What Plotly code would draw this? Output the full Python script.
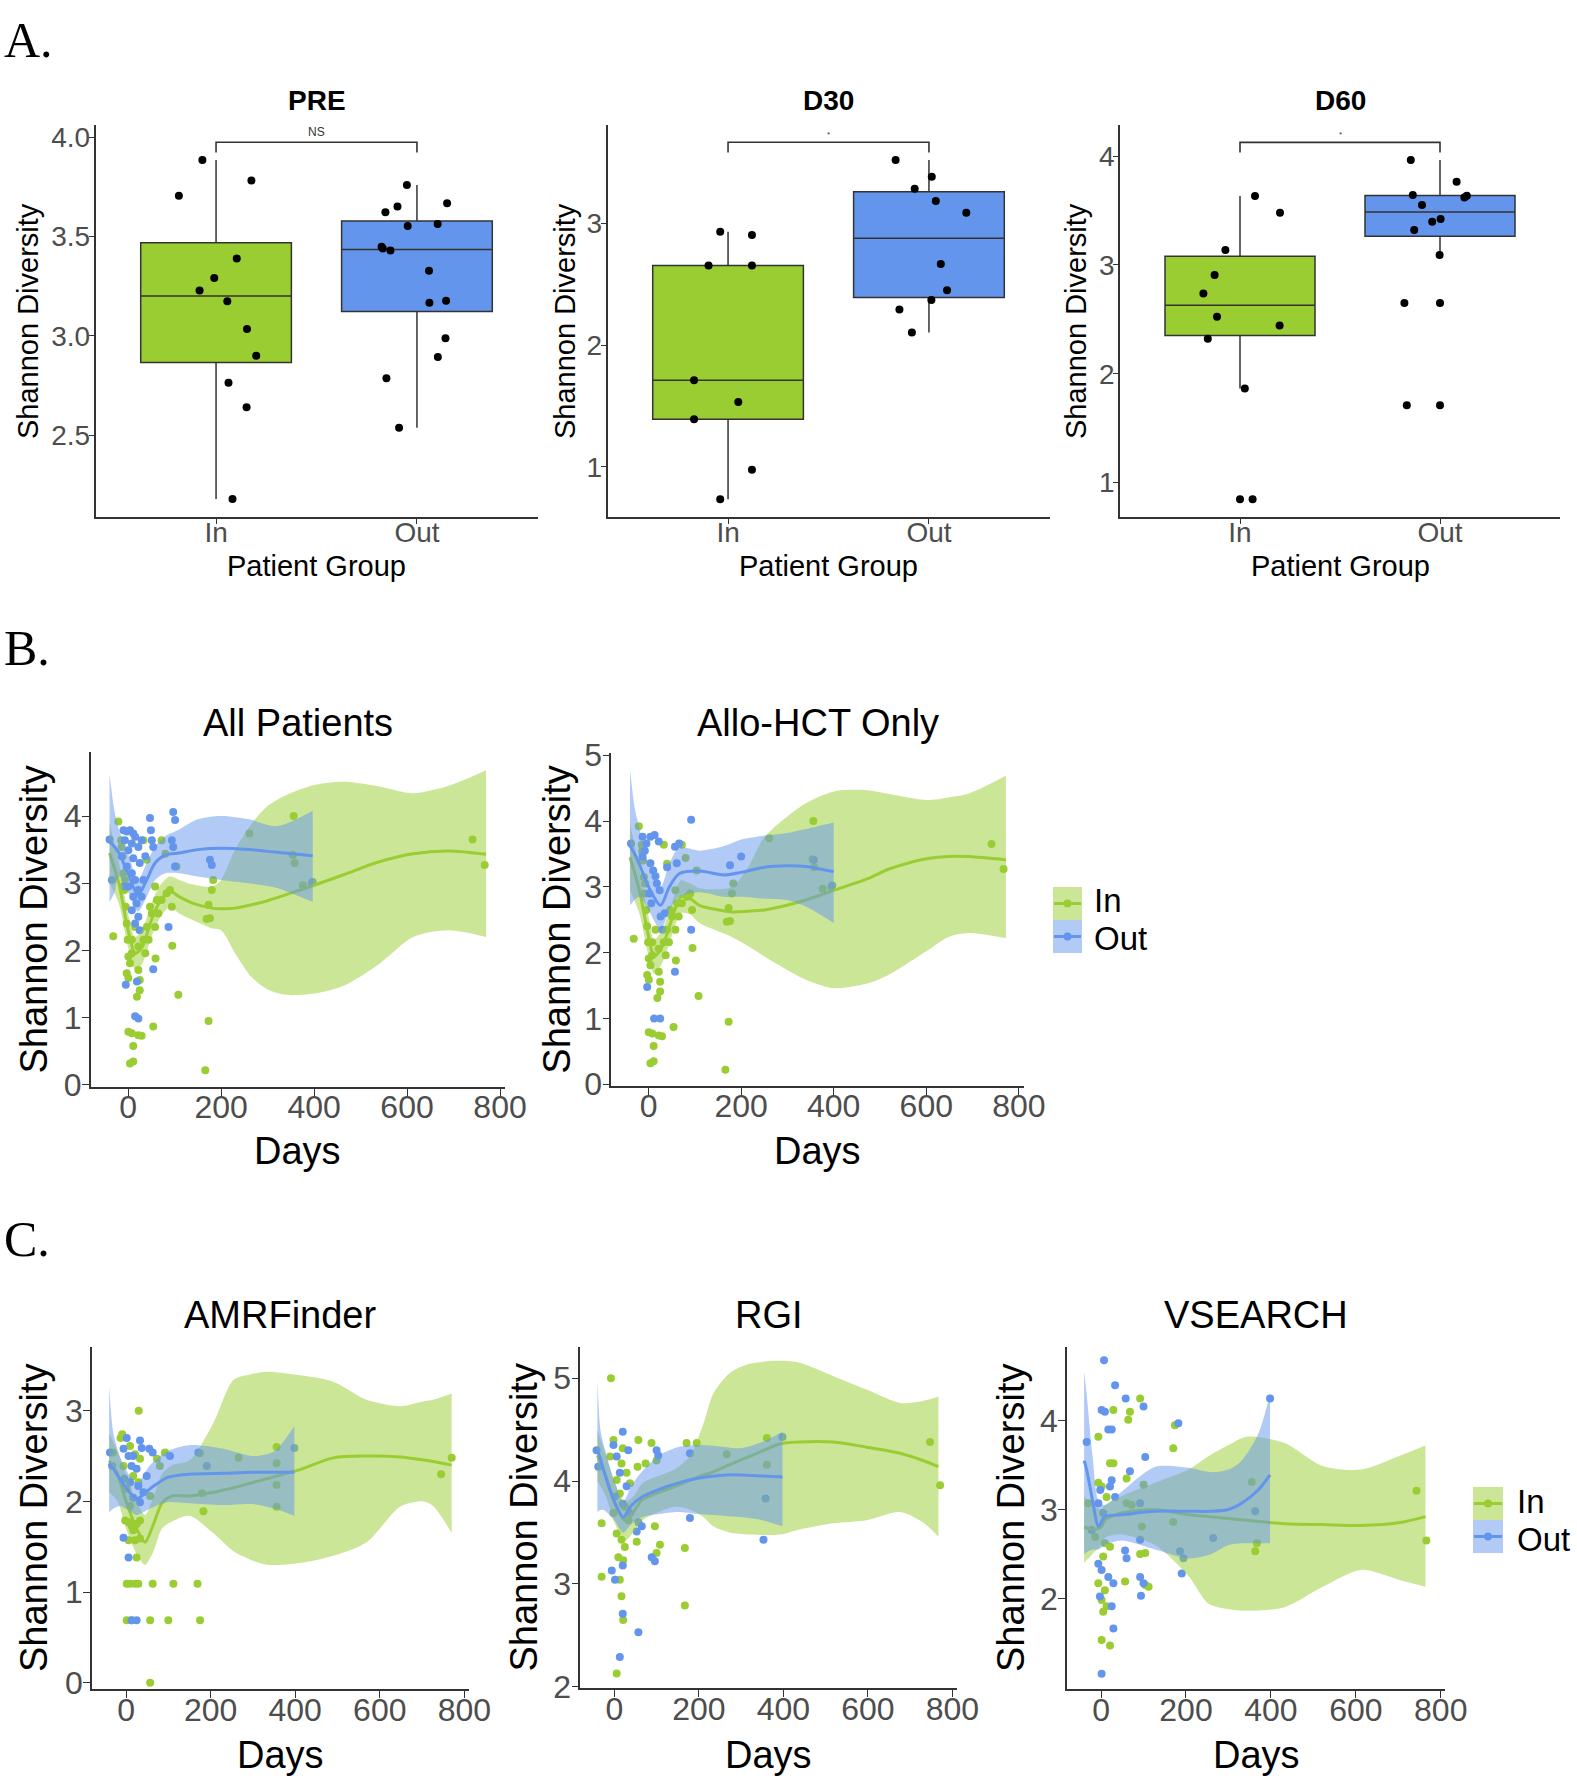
import numpy as np
import plotly.graph_objects as go

W, H = 1577, 1781
GREEN, BLUE = '#9ACD32', '#6495ED'
GREEN_RIB, BLUE_RIB = 'rgba(154,205,50,0.5)', 'rgba(100,149,237,0.5)'
AX = '#333333'
TICKC = '#4D4D4D'
SANS = 'Liberation Sans, Arial, sans-serif'
SERIF = 'Liberation Serif, Times New Roman, serif'

group_labels = ['In', 'Out']
time_ticks = [0, 200, 400, 600, 800]

# ---------------- Panel A : box plots ----------------
pre_in = [3.886, 3.706, 3.782, 3.390, 3.291, 3.228, 3.174, 3.034, 2.900, 2.764, 2.640, 2.178]
pre_in_jit = [-0.068, -0.185, 0.176, 0.103, -0.009, -0.082, 0.056, 0.154, 0.200, 0.062, 0.152, 0.082]
pre_out = [3.760, 3.622, 3.651, 3.668, 3.553, 3.563, 3.449, 3.430, 3.440, 3.328, 3.167, 3.177,
           2.987, 2.893, 2.786, 2.537]
pre_out_jit = [-0.050, -0.157, -0.097, 0.150, -0.046, 0.103, -0.176, -0.132, -0.170, 0.060, 0.062,
               0.145, 0.142, 0.104, -0.152, -0.089]

d30_in = [2.932, 2.904, 2.655, 2.655, 1.712, 1.534, 1.392, 0.978, 0.734]
d30_in_jit = [-0.039, 0.119, -0.097, 0.119, -0.169, 0.051, -0.169, 0.119, -0.039]
d30_out = [3.521, 3.384, 3.285, 3.184, 3.088, 2.666, 2.452, 2.370, 2.293, 2.104]
d30_out_jit = [-0.166, 0.014, -0.071, 0.034, 0.186, 0.059, 0.090, 0.012, -0.147, -0.085]

d60_in = [3.632, 3.479, 3.136, 2.906, 2.737, 2.523, 2.443, 2.321, 1.864, 0.847]
d60_in_jit = [0.075, 0.200, -0.073, -0.127, -0.183, -0.115, 0.198, -0.161, 0.024, 0.063]
d60_out = [3.963, 3.764, 3.641, 3.620, 3.635, 3.549, 3.421, 3.396, 3.320, 3.090, 2.649, 1.711]
d60_out_jit = [-0.146, 0.083, -0.136, 0.122, 0.134, -0.090, 0.003, -0.039, -0.129, -0.002, -0.178, -0.166]

box_titles = ['PRE', 'D30', 'D60']
box_sig = ['NS', '*', '*']

# ---------------- Panel B : All patients ----------------
all_in_day = [-21, -32, -15, -12, -10, -8, -5, -3, -1, 0.5, 4, -3, 0.5, 22, 25, 25, 19, 0.5, 8, 22,
              29, 11, 4, 11, 54, 59, 95, 108, 173, 166, 58, 62, 65, 58, 72, 83, 90, 94, 51, 44,
              37, 33, 40, 72, 80, 104, 173, 176, 169, 180, 183, -14, -7, 8, 15, 33, 40, 47, 22, 8,
              741, 767, 356, 354, 376, 395, 261, 358]
all_in_val = [3.92, 2.21, 3.64, 3.40, 3.15, 2.90, 2.65, 2.40, 2.16, 1.91, 1.81, 1.66, 1.59, 1.71, 1.56, 1.41, 1.31, 0.79, 0.77, 0.74,
              0.73, 0.58, 0.32, 0.35, 0.87, 1.88, 2.07, 1.34, 0.95, 0.22, 2.95, 2.75, 2.55, 2.35, 2.75, 2.85, 2.90, 2.65, 2.55, 2.16,
              1.96, 3.64, 3.35, 3.64, 3.44, 3.25, 2.68, 2.48, 2.47, 2.90, 3.05, 3.54, 3.05, 2.16, 2.35, 2.16, 2.35, 2.65, 2.06, 1.96,
              3.65, 3.27, 4.00, 3.42, 2.97, 3.00, 3.74, 3.30]
all_out_day = [-40, -35, -10, -3, 4, 11, 15, -7, 8, 0.5, 22, -14, 11, -3, 25, 8, 15, 0.5, 22, 11,
               18, 8, 22, 15, 25, 47, 49, 51, 54, 97, 101, 94, 97, 101, 87, 54, -5, 19, 15, 22,
               176, 180, 29, 33, 37, -10, 29, 397]
all_out_val = [3.65, 3.05, 3.79, 3.77, 3.79, 3.74, 3.69, 3.64, 3.59, 3.49, 3.54, 3.40, 3.37, 3.25, 3.30, 3.15, 3.05, 2.95, 2.90, 2.80,
               2.70, 2.60, 2.50, 2.40, 2.30, 3.97, 3.79, 3.64, 3.54, 4.06, 3.94, 3.64, 3.54, 3.25, 2.35, 1.72, 1.49, 1.54, 1.02, 0.99,
               3.35, 3.27, 3.64, 3.05, 3.40, 2.95, 2.80, 3.02]
all_in_knot = [-40, -20, 0, 15, 30, 50, 70, 90, 110, 140, 180, 200, 230, 266, 300, 340, 400, 465, 540, 613, 690, 770]
all_in_fit = [3.45, 3.0, 2.3, 1.96, 2.05, 2.45, 2.75, 2.88, 2.80, 2.70, 2.63, 2.62, 2.63, 2.68, 2.74, 2.83, 2.97, 3.13, 3.32, 3.44, 3.48, 3.43]
all_in_hi = [3.9, 3.3, 2.55, 2.2, 2.3, 2.7, 2.98, 3.1, 3.05, 2.98, 2.95, 3.05, 3.5, 3.89, 4.15, 4.31, 4.46, 4.51, 4.44, 4.34, 4.45, 4.68]
all_in_lo = [3.0, 2.7, 2.05, 1.72, 1.8, 2.2, 2.5, 2.65, 2.55, 2.45, 2.33, 2.3, 1.96, 1.6, 1.42, 1.34, 1.36, 1.48, 1.8, 2.2, 2.3, 2.2]
all_out_knot = [-40, -30, -20, 0, 21, 40, 58, 80, 110, 150, 200, 260, 320, 397]
all_out_fit = [3.62, 3.55, 3.45, 3.15, 2.82, 3.05, 3.30, 3.42, 3.45, 3.50, 3.52, 3.50, 3.46, 3.41]
all_out_hi = [4.62, 4.1, 3.8, 3.45, 3.05, 3.3, 3.55, 3.7, 3.8, 3.95, 4.0, 3.95, 3.85, 4.08]
all_out_lo = [2.72, 2.85, 3.1, 2.87, 2.58, 2.8, 3.05, 3.15, 3.15, 3.1, 3.05, 3.0, 2.93, 2.72]

# ---------------- Panel B : Allo-HCT only ----------------
allo_in_day = all_in_day
allo_in_val = all_in_val
allo_out_day = [-38, -13, -4.5, 4, 13, 22, -13, 4, 15, 24, 6, 26, 30, 57, 66, 61, 92, 92, 57, -3,
                12, 25, 176, 200, -8, 10, 18, 35, 2, 40, 397, 357]
allo_out_val = [3.66, 3.76, 3.66, 3.76, 3.79, 3.69, 3.46, 3.36, 3.16, 2.95, 2.75, 2.55, 2.35, 3.61, 3.66, 3.36, 4.02, 2.35, 1.71, 1.48,
                1.00, 1.00, 3.33, 3.46, 3.55, 3.25, 3.05, 2.60, 2.90, 3.30, 3.02, 3.41]
allo_in_knot = [-40, -20, 0, 12, 30, 50, 70, 90, 110, 180, 215, 251, 340, 401, 472, 515, 560, 604, 648, 692, 772]
allo_in_fit = [3.45, 2.95, 2.25, 1.94, 2.1, 2.5, 2.85, 2.82, 2.72, 2.62, 2.63, 2.65, 2.80, 2.95, 3.12, 3.26, 3.36, 3.43, 3.46, 3.46, 3.41]
allo_in_hi = [3.95, 3.3, 2.55, 2.2, 2.35, 2.75, 3.1, 3.05, 2.98, 3.0, 3.3, 3.76, 4.27, 4.45, 4.47, 4.42, 4.36, 4.32, 4.36, 4.42, 4.69]
allo_in_lo = [2.95, 2.6, 1.95, 1.68, 1.85, 2.25, 2.6, 2.58, 2.45, 2.24, 2.1, 1.94, 1.59, 1.46, 1.53, 1.65, 1.84, 2.04, 2.24, 2.3, 2.22]
allo_out_knot = [-40, -30, -20, 0, 26, 45, 66, 110, 163, 200, 251, 300, 340, 400]
allo_out_fit = [3.62, 3.5, 3.35, 3.0, 2.72, 3.0, 3.2, 3.24, 3.18, 3.22, 3.3, 3.32, 3.31, 3.23]
allo_out_hi = [4.78, 4.2, 3.9, 3.35, 3.0, 3.35, 3.6, 3.55, 3.62, 3.72, 3.78, 3.82, 3.88, 3.98]
allo_out_lo = [2.72, 2.8, 2.85, 2.65, 2.35, 2.65, 2.85, 2.92, 2.85, 2.85, 2.82, 2.8, 2.7, 2.45]

# ---------------- Panel C : AMRFinder ----------------
amr_in_day = [30, -9, -13, 9.5, 21, -6, 33, 73, 92, 80, 17, 29, 1.6, 57, 9.5, -2, 6, 13, 25, 33,
              17, 6, 21, 33, 25, 1.6, 9.5, 21, 29, 63, 112, 169, 1.6, 13, 57, 100, 175, 57, -31, 745,
              770, 356, 356, 356, 356, 175, 179, 183, 266]
amr_in_val = [3.0, 2.74, 2.70, 2.61, 2.52, 2.39, 2.47, 2.47, 2.54, 2.39, 2.28, 2.21, 2.14, 2.06, 1.95, 1.79, 1.77, 1.73, 1.75, 1.79,
              1.68, 1.57, 1.57, 1.59, 1.38, 1.09, 1.09, 1.09, 1.09, 1.09, 1.09, 1.09, 0.69, 0.69, 0.69, 0.69, 0.69, 0.0, 2.54, 2.30,
              2.48, 2.60, 2.42, 2.18, 1.94, 2.53, 2.09, 1.89, 2.48]
amr_out_day = [-38, -33, -6, 1.6, 6, 17, 33, 37, 55, 63, 13, 25, -4, 9.5, 29, 41, 17, 33, 49, -6,
               6, 25, 13, 104, 171, 191, 398]
amr_out_val = [2.54, 2.39, 2.58, 2.70, 2.50, 2.50, 2.67, 2.59, 2.58, 2.54, 2.39, 2.36, 2.25, 2.21, 2.17, 2.10, 2.04, 1.99, 2.28, 1.60,
               1.38, 0.69, 0.69, 2.50, 2.54, 2.39, 2.59]
amr_in_knot = [-40, -20, 0, 25, 45, 65, 85, 110, 150, 206, 254, 293, 333, 411, 490, 569, 648, 700, 726, 770]
amr_in_fit = [2.45, 2.3, 2.0, 1.7, 1.55, 1.75, 1.98, 2.06, 2.06, 2.1, 2.15, 2.2, 2.25, 2.35, 2.48, 2.5, 2.49, 2.46, 2.44, 2.4]
amr_in_hi = [2.75, 2.55, 2.3, 2.0, 1.85, 2.05, 2.3, 2.4, 2.45, 2.86, 3.34, 3.4, 3.43, 3.39, 3.32, 3.12, 3.05, 3.1, 3.12, 3.19]
amr_in_lo = [2.1, 2.0, 1.7, 1.42, 1.3, 1.45, 1.7, 1.78, 1.84, 1.65, 1.45, 1.36, 1.3, 1.32, 1.4, 1.55, 1.94, 2.0, 1.95, 1.65]
amr_out_knot = [-40, -30, -15, 0, 25, 57, 96, 150, 230, 300, 350, 398]
amr_out_fit = [2.42, 2.36, 2.25, 2.15, 2.03, 2.14, 2.26, 2.30, 2.31, 2.32, 2.32, 2.32]
amr_out_hi = [3.27, 2.75, 2.5, 2.35, 2.2, 2.4, 2.55, 2.62, 2.58, 2.5, 2.55, 2.83]
amr_out_lo = [1.88, 1.92, 1.95, 1.92, 1.85, 1.92, 1.99, 1.98, 1.96, 1.97, 1.92, 1.84]

# ---------------- Panel C : RGI ----------------
rgi_in_day = [-8, -30, -30, -2, 20, 57, 88, -10, 17, 29, 55, 74, 100, 5.6, 37, 13, 25, -2, 33, 5.6,
              17, 25, 9.5, 21, 53, 96, 108, 100, 13, 17, 21, 167, 167, 5.6, 171, 195, 747, 771, 361, 361, 266]
rgi_in_val = [5.0, 3.59, 3.07, 4.40, 4.32, 4.40, 4.37, 4.24, 4.17, 4.08, 4.14, 4.17, 4.20, 4.01, 3.98, 3.88, 3.75, 3.69, 3.62, 3.49,
              3.43, 3.36, 3.26, 3.23, 3.41, 3.56, 3.38, 3.30, 3.04, 2.88, 2.65, 3.35, 2.79, 2.13, 4.37, 4.37, 4.38, 3.96, 4.42, 4.16, 4.26]
rgi_out_day = [-38, -42, -2, 20, 33, 5.6, 13, 29, 100, 104, 1.6, 20, 37, 57, 65, 53, 179, 88.5, 96, -6,
               1.6, 20, 20, 57, 13, 353, 179, 358, 398]
rgi_out_val = [4.14, 4.30, 4.35, 4.48, 4.30, 4.24, 4.08, 3.95, 4.30, 4.25, 3.85, 3.78, 3.69, 3.60, 3.56, 3.51, 3.64, 3.26, 3.22, 3.13,
               3.04, 3.18, 2.71, 2.53, 2.29, 3.43, 4.27, 3.83, 4.43]
rgi_in_knot = [-40, -20, 0, 25, 45, 67, 145, 180, 211, 234, 273, 320, 392, 439, 518, 597, 676, 730, 767]
rgi_in_fit = [4.25, 4.05, 3.8, 3.62, 3.7, 3.82, 3.95, 4.01, 4.06, 4.09, 4.16, 4.24, 4.36, 4.38, 4.38, 4.33, 4.27, 4.2, 4.14]
rgi_in_hi = [4.5, 4.25, 4.0, 3.8, 3.85, 3.98, 4.12, 4.25, 4.56, 4.85, 5.05, 5.14, 5.17, 5.15, 5.02, 4.89, 4.76, 4.78, 4.82]
rgi_in_lo = [4.0, 3.85, 3.6, 3.42, 3.5, 3.62, 3.75, 3.72, 3.65, 3.56, 3.5, 3.48, 3.48, 3.53, 3.59, 3.62, 3.7, 3.6, 3.46]
rgi_out_knot = [-40, -33, -25, 0, 21, 40, 67, 106, 150, 200, 264, 300, 350, 398]
rgi_out_fit = [4.3, 4.22, 4.1, 3.8, 3.65, 3.76, 3.85, 3.92, 3.98, 4.03, 4.06, 4.06, 4.05, 4.04]
rgi_out_hi = [4.98, 4.5, 4.35, 4.0, 3.8, 3.95, 4.1, 4.25, 4.33, 4.35, 4.33, 4.32, 4.38, 4.48]
rgi_out_lo = [3.7, 3.72, 3.72, 3.62, 3.5, 3.58, 3.65, 3.68, 3.7, 3.68, 3.66, 3.65, 3.62, 3.56]

# ---------------- Panel C : VSEARCH ----------------
vs_in_day = [92, 68, 64, 29, -6.5, 21, 29, 174, 170, -6.5, 1.3, 60, 100, -30, 13, 60, 72, 170, 96, -14,
             9, 21, 5, 92, 104, 56.5, 104, 112, -6.5, 9, 1.3, 13, 5, 1.3, 21, 363, 367, 355, 743, 766]
vs_in_val = [4.25, 4.10, 4.01, 4.12, 3.82, 3.52, 3.52, 3.95, 3.69, 3.30, 3.26, 3.35, 3.28, 3.07, 3.14, 3.07, 3.05, 2.86, 2.81, 2.69,
             2.62, 2.58, 2.47, 2.50, 2.51, 2.19, 2.15, 2.13, 2.17, 2.09, 1.98, 1.91, 1.85, 1.53, 1.47, 2.53, 2.62, 3.31, 3.21, 2.65]
vs_out_day = [7, 33, 58, 100, 1.3, 9, 17, 25, -34, 104, 68, 25, 21, -2, 33, -6.5, 5, -22, 92, 56.5,
              60, 186, 194, 190, -6.5, 1.3, 17, 29, 92, 100, 94, -2.7, 25, 29, 1.3, 398, 182, 363, 264, 92]
vs_out_val = [4.68, 4.40, 4.25, 4.16, 4.12, 4.10, 3.90, 3.90, 3.76, 3.59, 3.43, 3.33, 3.26, 3.22, 3.14, 3.07, 2.96, 2.77, 2.66, 2.54,
              2.45, 2.53, 2.45, 2.28, 2.39, 2.32, 2.24, 2.17, 2.24, 2.17, 2.03, 2.02, 1.91, 1.66, 1.15, 4.25, 3.97, 2.98, 2.68, 3.07]
vs_in_knot = [-40, -20, 0, 9, 48, 127, 206, 253, 298, 343, 432, 522, 612, 701, 764]
vs_in_fit = [2.8, 2.78, 2.8, 2.88, 2.96, 3.0, 2.94, 2.92, 2.9, 2.88, 2.84, 2.83, 2.82, 2.85, 2.92]
vs_in_hi = [3.15, 3.05, 3.0, 3.05, 3.15, 3.3, 3.45, 3.6, 3.72, 3.82, 3.75, 3.49, 3.45, 3.6, 3.72]
vs_in_lo = [2.4, 2.5, 2.6, 2.68, 2.72, 2.6, 2.25, 1.94, 1.88, 1.86, 1.9, 2.13, 2.32, 2.21, 2.13]
vs_out_knot = [-40, -34, -20, -6, 9, 48, 127, 206, 260, 300, 331, 370, 398]
vs_out_fit = [3.55, 3.45, 3.1, 2.81, 2.92, 2.94, 2.98, 2.98, 2.98, 3.0, 3.07, 3.22, 3.39]
vs_out_hi = [4.55, 4.3, 3.6, 3.1, 3.05, 3.2, 3.48, 3.47, 3.42, 3.45, 3.55, 3.85, 4.3]
vs_out_lo = [2.5, 2.52, 2.55, 2.55, 2.6, 2.65, 2.55, 2.45, 2.5, 2.6, 2.62, 2.62, 2.62]

# ---------------- layout geometry (pixels) ----------------
def fx(p):
    return p / W


def fy(p):
    return 1 - p / H


# (left, right, top, bottom) in pixels
geom = {
    1: (95.5, 537.5, 125, 517),
    2: (607.5, 1049.5, 125, 517),
    3: (1120, 1560, 125, 517),
    4: (90.7, 504.9, 752.4, 1086.7),
    5: (611.3, 1023.7, 753.3, 1086),
    6: (92, 468.8, 1346.7, 1689.3),
    7: (580.3, 956.8, 1346.7, 1688.3),
    8: (1066.9, 1445.2, 1346.7, 1689.3),
}

fig = go.Figure()
layout = dict(width=W, height=H, margin=dict(l=0, r=0, t=0, b=0, pad=0, autoexpand=False),
              paper_bgcolor='white', plot_bgcolor='white', showlegend=False,
              boxmode='overlay', font=dict(family=SANS, color='black'))
annotations = []
shapes = []


def axname(i, kind):
    return kind if i == 1 else f'{kind}{i}'


def axis_cfg(i, kind, rng, tickvals, ticktext, fsize, tlen, standoff):
    l, r, t, b = geom[i]
    dom = [fx(l), fx(r)] if kind == 'x' else [fy(b), fy(t)]
    cfg = dict(domain=dom, range=rng, showgrid=False, zeroline=False, showline=True,
               linecolor=AX, linewidth=1.6, ticks='outside', ticklen=tlen, tickwidth=1.4,
               tickcolor=AX, tickvals=tickvals, ticktext=ticktext,
               tickfont=dict(size=fsize, color=TICKC, family=SANS),
               ticklabelstandoff=standoff, automargin=False,
               anchor=axname(i, 'y' if kind == 'x' else 'x'), fixedrange=True)
    key = ('xaxis' if kind == 'x' else 'yaxis') + ('' if i == 1 else str(i))
    layout[key] = cfg


def box_stats(vals):
    v = np.array(vals, dtype=float)
    q1, med, q3 = np.percentile(v, [25, 50, 75])
    iqr = q3 - q1
    lo_f, hi_f = q1 - 1.5 * iqr, q3 + 1.5 * iqr
    inside = v[(v >= lo_f) & (v <= hi_f)]
    outl = v[(v < lo_f) | (v > hi_f)]
    return q1, med, q3, inside.min(), inside.max(), outl


def add_box_panel(i, in_vals, in_jit, out_vals, out_jit, title, sig, yrng, yticks, yticktext):
    xa, ya = axname(i, 'x'), axname(i, 'y')
    axis_cfg(i, 'x', [0.4, 2.6], [1, 2], group_labels, 28, 5, -15)
    axis_cfg(i, 'y', yrng, yticks, yticktext, 28, 5, -7)
    for pos, vals, col in [(1, in_vals, GREEN), (2, out_vals, BLUE)]:
        q1, med, q3, lo, hi, outl = box_stats(vals)
        fig.add_trace(go.Box(x=[pos], q1=[q1], median=[med], q3=[q3], lowerfence=[lo], upperfence=[hi],
                             width=0.75, fillcolor=col, line=dict(color=AX, width=1.5), whiskerwidth=0,
                             boxpoints=False, xaxis=xa, yaxis=ya, hoverinfo='skip'))
        if len(outl):
            fig.add_trace(go.Scatter(x=[pos] * len(outl), y=list(outl), mode='markers',
                                     marker=dict(color='black', size=8), xaxis=xa, yaxis=ya, hoverinfo='skip'))
    for pos, vals, jit in [(1, in_vals, in_jit), (2, out_vals, out_jit)]:
        fig.add_trace(go.Scatter(x=[pos + j for j in jit], y=vals, mode='markers',
                                 marker=dict(color='black', size=8), xaxis=xa, yaxis=ya, hoverinfo='skip'))
    allv = in_vals + out_vals
    rng = max(allv) - min(allv)
    yl = max(allv) + 0.052 * rng
    tip = yl - 0.03 * rng
    shapes.append(dict(type='path', xref=xa, yref=ya, path=f'M 1,{tip} L 1,{yl} L 2,{yl} L 2,{tip}',
                       line=dict(color=AX, width=1.6)))
    annotations.append(dict(x=1.5, y=yl, xref=xa, yref=ya, text=sig, showarrow=False, yanchor='bottom',
                            yshift=1, font=dict(size=12 if sig == 'NS' else 8, color=AX)))
    l, r, t, b = geom[i]
    cx = (l + r) / 2
    annotations.append(dict(x=fx(cx), y=fy(100), xref='paper', yref='paper', text=f'<b>{title}</b>',
                            showarrow=False, xanchor='center', yanchor='middle', font=dict(size=28)))
    annotations.append(dict(x=fx(cx), y=fy(566), xref='paper', yref='paper', text='Patient Group',
                            showarrow=False, xanchor='center', yanchor='middle', font=dict(size=29)))


def add_ribbon(xa, ya, knot, lo, hi, fillcol):
    fig.add_trace(go.Scatter(x=knot, y=lo, mode='lines', line=dict(width=0, shape='spline', smoothing=0.8),
                             xaxis=xa, yaxis=ya, hoverinfo='skip'))
    fig.add_trace(go.Scatter(x=knot, y=hi, mode='lines', line=dict(width=0, shape='spline', smoothing=0.8),
                             fill='tonexty', fillcolor=fillcol, xaxis=xa, yaxis=ya, hoverinfo='skip'))


def add_time_panel(i, title, yrng, yticks, in_day, in_val, out_day, out_val,
                   in_knot, in_fit, in_lo, in_hi, out_knot, out_fit, out_lo, out_hi, ytitle_x):
    xa, ya = axname(i, 'x'), axname(i, 'y')
    axis_cfg(i, 'x', [-80.5, 810.5], time_ticks, [str(t) for t in time_ticks], 32, 7, -16)
    axis_cfg(i, 'y', yrng, yticks, [str(t) for t in yticks], 32, 7, -6)
    fig.add_trace(go.Scatter(x=in_day, y=in_val, mode='markers', marker=dict(color=GREEN, size=8),
                             xaxis=xa, yaxis=ya, hoverinfo='skip'))
    fig.add_trace(go.Scatter(x=out_day, y=out_val, mode='markers', marker=dict(color=BLUE, size=8),
                             xaxis=xa, yaxis=ya, hoverinfo='skip'))
    add_ribbon(xa, ya, in_knot, in_lo, in_hi, GREEN_RIB)
    fig.add_trace(go.Scatter(x=in_knot, y=in_fit, mode='lines',
                             line=dict(color=GREEN, width=3, shape='spline', smoothing=0.8),
                             xaxis=xa, yaxis=ya, hoverinfo='skip'))
    add_ribbon(xa, ya, out_knot, out_lo, out_hi, BLUE_RIB)
    fig.add_trace(go.Scatter(x=out_knot, y=out_fit, mode='lines',
                             line=dict(color=BLUE, width=3, shape='spline', smoothing=0.8),
                             xaxis=xa, yaxis=ya, hoverinfo='skip'))
    l, r, t, b = geom[i]
    cx = (l + r) / 2
    ty = 723 if i in (4, 5) else 1315
    dy = 1151 if i in (4, 5) else 1755
    annotations.append(dict(x=fx(cx), y=fy(ty), xref='paper', yref='paper', text=title, showarrow=False,
                            xanchor='center', yanchor='middle', font=dict(size=38)))
    annotations.append(dict(x=fx(cx), y=fy(dy), xref='paper', yref='paper', text='Days', showarrow=False,
                            xanchor='center', yanchor='middle', font=dict(size=38)))
    annotations.append(dict(x=fx(ytitle_x), y=fy((t + b) / 2), xref='paper', yref='paper',
                            text='Shannon Diversity', showarrow=False, textangle=-90,
                            xanchor='center', yanchor='middle', font=dict(size=38)))


def add_legend(kx0, kx1, ky0, tx):
    kh = 33
    for k, (lab, col, rib) in enumerate([('In', GREEN, GREEN_RIB), ('Out', BLUE, BLUE_RIB)]):
        y0 = ky0 + k * kh
        y1 = y0 + kh
        ym = (y0 + y1) / 2
        shapes.append(dict(type='rect', xref='paper', yref='paper', x0=fx(kx0), x1=fx(kx1), y0=fy(y1), y1=fy(y0),
                           fillcolor=rib, line=dict(width=0), layer='above'))
        shapes.append(dict(type='line', xref='paper', yref='paper', x0=fx(kx0 + 1), x1=fx(kx1 - 1), y0=fy(ym), y1=fy(ym),
                           line=dict(color=col, width=3), layer='above'))
        shapes.append(dict(type='circle', xref='paper', yref='paper', x0=fx((kx0 + kx1) / 2 - 4), x1=fx((kx0 + kx1) / 2 + 4),
                           y0=fy(ym + 4), y1=fy(ym - 4), fillcolor=col, line=dict(width=0), layer='above'))
        ty = ym - 2.5 if k == 0 else ym + 2.5
        annotations.append(dict(x=fx(tx), y=fy(ty), xref='paper', yref='paper', text=lab, showarrow=False,
                                xanchor='left', yanchor='middle', font=dict(size=33)))


# ---- Panel A ----
add_box_panel(1, pre_in, pre_in_jit, pre_out, pre_out_jit, box_titles[0], box_sig[0],
              [2.087, 4.062], [2.5, 3.0, 3.5, 4.0], ['2.5', '3.0', '3.5', '4.0'])
add_box_panel(2, d30_in, d30_in_jit, d30_out, d30_out_jit, box_titles[1], box_sig[1],
              [0.589, 3.808], [1, 2, 3], ['1', '2', '3'])
add_box_panel(3, d60_in, d60_in_jit, d60_out, d60_out_jit, box_titles[2], box_sig[2],
              [0.684, 4.285], [1, 2, 3, 4], ['1', '2', '3', '4'])
for x_t, i in [(28, 1), (565, 2), (1076, 3)]:
    l, r, t, b = geom[i]
    annotations.append(dict(x=fx(x_t), y=fy((t + b) / 2), xref='paper', yref='paper', text='Shannon Diversity',
                            showarrow=False, textangle=-90, xanchor='center', yanchor='middle', font=dict(size=29)))

# ---- Panel B ----
add_time_panel(4, 'All Patients', [-0.026, 4.946], [0, 1, 2, 3, 4], all_in_day, all_in_val, all_out_day, all_out_val,
               all_in_knot, all_in_fit, all_in_lo, all_in_hi, all_out_knot, all_out_fit, all_out_lo, all_out_hi, 34)
add_time_panel(5, 'Allo-HCT Only', [-0.026, 5.03], [0, 1, 2, 3, 4, 5], allo_in_day, allo_in_val, allo_out_day, allo_out_val,
               allo_in_knot, allo_in_fit, allo_in_lo, allo_in_hi, allo_out_knot, allo_out_fit, allo_out_lo, allo_out_hi, 557)
add_legend(1053, 1082, 887, 1092)

# ---- Panel C ----
add_time_panel(6, 'AMRFinder', [-0.073, 3.706], [0, 1, 2, 3], amr_in_day, amr_in_val, amr_out_day, amr_out_val,
               amr_in_knot, amr_in_fit, amr_in_lo, amr_in_hi, amr_out_knot, amr_out_fit, amr_out_lo, amr_out_hi, 34)
add_time_panel(7, 'RGI', [1.985, 5.307], [2, 3, 4, 5], rgi_in_day, rgi_in_val, rgi_out_day, rgi_out_val,
               rgi_in_knot, rgi_in_fit, rgi_in_lo, rgi_in_hi, rgi_out_knot, rgi_out_fit, rgi_out_lo, rgi_out_hi, 523)
add_time_panel(8, 'VSEARCH', [0.976, 4.833], [2, 3, 4], vs_in_day, vs_in_val, vs_out_day, vs_out_val,
               vs_in_knot, vs_in_fit, vs_in_lo, vs_in_hi, vs_out_knot, vs_out_fit, vs_out_lo, vs_out_hi, 1011)
add_legend(1473, 1503, 1487, 1515)

# ---- panel letters ----
for lab, yc in [('A.', 40), ('B.', 648), ('C.', 1239)]:
    annotations.append(dict(x=fx(2), y=fy(yc), xref='paper', yref='paper', text=lab, showarrow=False,
                            xanchor='left', yanchor='middle', font=dict(size=50, family=SERIF, color='black')))

layout['annotations'] = annotations
layout['shapes'] = shapes
fig.update_layout(**layout)
fig.write_html('out.html')
